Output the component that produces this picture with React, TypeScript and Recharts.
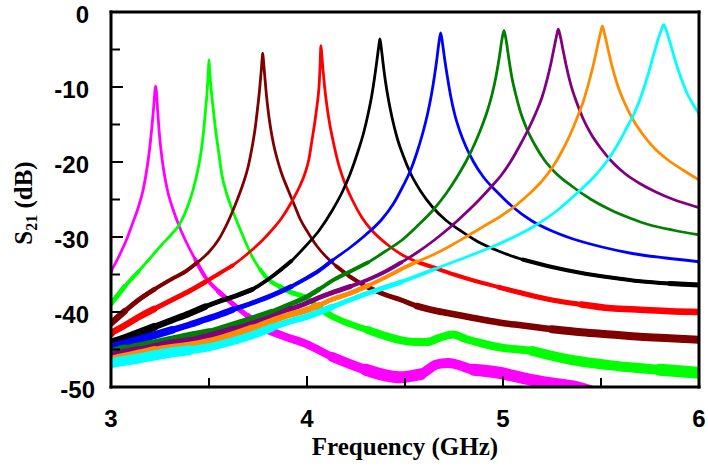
import { LineChart, Line, XAxis, YAxis } from "recharts";

// resonance traces, [frequency GHz, S21 dB]
const magenta: [number, number][] = [
  [3.0, -34.6], [3.04, -32.6], [3.08, -30.3], [3.11, -28.2], [3.14, -26.0], [3.165, -23.6], [3.185, -20.6],
  [3.2, -17.6], [3.21, -15.0], [3.218, -12.6], [3.224, -10.6], [3.228, -9.9], [3.232, -10.7], [3.238, -13.2],
  [3.246, -16.0], [3.256, -18.6], [3.27, -21.3], [3.29, -24.0], [3.315, -26.2], [3.35, -28.7], [3.39, -31.0],
  [3.43, -33.0], [3.48, -35.3], [3.55, -37.3], [3.62, -38.9], [3.7, -40.6], [3.79, -42.3], [3.9, -43.4],
  [3.99, -44.2], [4.13, -46.0], [4.3, -47.7], [4.47, -48.7], [4.58, -48.3], [4.66, -47.0], [4.72, -46.8],
  [4.85, -47.7], [4.98, -48.1], [5.1, -48.8], [5.24, -49.5], [5.35, -49.9], [5.45, -50.6],
];
const green: [number, number][] = [
  [3.0, -38.9], [3.07, -36.6], [3.14, -34.6], [3.2, -32.8], [3.26, -31.0], [3.31, -29.6], [3.35, -28.3],
  [3.39, -26.0], [3.42, -23.6], [3.445, -20.8], [3.46, -18.6], [3.472, -16.0], [3.482, -13.2], [3.49, -10.8],
  [3.496, -8.2], [3.5, -6.4], [3.504, -8.0], [3.512, -10.6], [3.522, -13.0], [3.535, -16.0], [3.55, -18.8],
  [3.565, -21.6], [3.59, -24.2], [3.622, -26.6], [3.65, -28.4], [3.685, -30.6], [3.72, -32.6], [3.76, -34.3],
  [3.8, -35.6], [3.86, -36.6], [3.92, -37.4], [3.99, -38.0], [4.06, -39.4], [4.13, -40.6], [4.22, -41.6],
  [4.31, -42.4], [4.4, -43.2], [4.47, -43.7], [4.55, -44.0], [4.61, -44.0], [4.68, -43.4], [4.745, -43.0],
  [4.81, -43.6], [4.88, -44.1], [4.98, -44.7], [5.15, -45.2], [5.33, -46.3], [5.58, -47.2], [5.8, -47.7],
  [6.0, -48.1],
];
const maroon: [number, number][] = [
  [3.0, -41.5], [3.07, -39.9], [3.14, -38.4], [3.22, -37.0], [3.31, -35.6], [3.38, -34.6], [3.44, -33.4],
  [3.5, -32.0], [3.55, -30.3], [3.6, -27.8], [3.64, -25.3], [3.67, -23.2], [3.7, -20.6], [3.72, -18.0],
  [3.735, -15.6], [3.748, -12.8], [3.758, -10.4], [3.766, -8.0], [3.771, -6.3], [3.774, -5.5], [3.778, -6.5],
  [3.784, -8.4], [3.792, -10.8], [3.802, -13.2], [3.815, -15.6], [3.83, -17.7], [3.85, -19.8], [3.87, -21.5],
  [3.9, -23.5], [3.935, -25.7], [3.965, -27.6], [4.0, -29.2], [4.05, -31.2], [4.1, -32.7], [4.15, -33.9],
  [4.22, -35.3], [4.31, -36.7], [4.4, -37.7], [4.48, -38.4], [4.56, -39.2], [4.65, -39.8], [4.75, -40.3],
  [4.85, -40.8], [4.98, -41.4], [5.1, -41.8], [5.25, -42.3], [5.4, -42.7], [5.55, -43.0], [5.7, -43.3],
  [5.85, -43.5], [6.0, -43.7],
];
const red: [number, number][] = [
  [3.0, -42.8], [3.07, -41.8], [3.14, -40.7], [3.22, -39.6], [3.31, -38.4], [3.4, -37.2], [3.48, -36.0],
  [3.55, -34.9], [3.62, -33.8], [3.68, -32.6], [3.72, -31.7], [3.77, -30.5], [3.82, -29.1], [3.87, -27.5],
  [3.92, -25.4], [3.96, -23.4], [3.99, -21.5], [4.01, -19.6], [4.026, -17.0], [4.041, -14.5], [4.05, -12.7],
  [4.056, -11.5], [4.063, -9.3], [4.067, -7.0], [4.071, -4.5], [4.076, -5.9], [4.082, -7.8], [4.09, -10.0],
  [4.1, -12.2], [4.115, -14.8], [4.13, -16.8], [4.16, -20.2], [4.19, -22.6], [4.23, -25.0], [4.28, -27.4],
  [4.33, -29.1], [4.4, -30.8], [4.48, -32.3], [4.56, -33.3], [4.65, -34.1], [4.75, -35.0], [4.85, -35.8],
  [4.98, -36.7], [5.1, -37.5], [5.25, -38.4], [5.4, -39.0], [5.55, -39.5], [5.7, -39.7], [5.85, -39.9],
  [6.0, -40.0],
];
const black: [number, number][] = [
  [3.0, -44.1], [3.07, -43.5], [3.14, -42.8], [3.22, -42.0], [3.31, -41.1], [3.4, -40.2], [3.48, -39.3],
  [3.55, -38.6], [3.62, -38.0], [3.72, -37.0], [3.82, -35.3], [3.92, -33.2], [3.99, -31.3], [4.06, -29.2],
  [4.13, -26.4], [4.18, -24.0], [4.22, -21.6], [4.26, -18.6], [4.29, -16.0], [4.31, -13.8], [4.33, -11.2],
  [4.345, -8.7], [4.357, -6.4], [4.366, -4.6], [4.372, -3.6], [4.379, -4.8], [4.388, -6.8], [4.4, -9.2],
  [4.415, -11.6], [4.435, -14.2], [4.46, -16.8], [4.49, -19.1], [4.53, -21.6], [4.58, -23.9], [4.64, -26.0],
  [4.71, -27.8], [4.78, -29.1], [4.87, -30.6], [4.98, -31.9], [5.1, -33.0], [5.25, -34.0], [5.4, -34.8],
  [5.55, -35.4], [5.7, -35.9], [5.85, -36.2], [6.0, -36.4],
];
const blue: [number, number][] = [
  [3.0, -44.7], [3.07, -44.2], [3.14, -43.7], [3.22, -43.1], [3.31, -42.4], [3.4, -41.7], [3.48, -41.0],
  [3.55, -40.4], [3.62, -39.7], [3.72, -38.8], [3.82, -37.8], [3.92, -36.6], [3.99, -35.6], [4.06, -34.5],
  [4.13, -33.1], [4.22, -31.4], [4.3, -29.7], [4.38, -27.7], [4.44, -25.6], [4.49, -23.2], [4.53, -21.0],
  [4.56, -18.8], [4.59, -16.2], [4.615, -13.6], [4.635, -11.0], [4.65, -8.6], [4.662, -6.4], [4.672, -4.3],
  [4.682, -2.8], [4.692, -4.3], [4.703, -6.4], [4.716, -8.6], [4.733, -11.2], [4.755, -13.8], [4.78, -15.9],
  [4.81, -17.9], [4.85, -20.0], [4.9, -22.0], [4.97, -24.0], [5.05, -26.0], [5.15, -27.9], [5.25, -29.2],
  [5.35, -30.2], [5.5, -31.3], [5.66, -32.2], [5.83, -32.8], [6.0, -33.3],
];
const darkGreen: [number, number][] = [
  [3.0, -45.5], [3.07, -45.0], [3.14, -44.6], [3.22, -44.2], [3.31, -43.7], [3.4, -43.2], [3.5, -42.7],
  [3.62, -41.7], [3.72, -40.9], [3.82, -40.0], [3.92, -38.9], [3.99, -38.1], [4.06, -37.0], [4.13, -35.8],
  [4.22, -34.6], [4.31, -33.4], [4.4, -31.9], [4.48, -30.5], [4.56, -28.6], [4.64, -26.5], [4.71, -24.2],
  [4.77, -21.8], [4.82, -19.5], [4.86, -17.3], [4.89, -15.4], [4.92, -13.2], [4.945, -10.9], [4.965, -8.5],
  [4.982, -5.9], [4.995, -3.6], [5.005, -2.5], [5.015, -3.6], [5.028, -5.9], [5.045, -8.7], [5.065, -11.0],
  [5.09, -13.4], [5.12, -15.5], [5.16, -17.6], [5.21, -19.7], [5.27, -21.5], [5.35, -23.2], [5.45, -25.0],
  [5.55, -26.4], [5.65, -27.5], [5.75, -28.4], [5.87, -29.1], [6.0, -29.7],
];
const purple: [number, number][] = [
  [3.0, -46.0], [3.07, -45.6], [3.14, -45.2], [3.22, -44.7], [3.31, -44.2], [3.4, -43.9], [3.5, -43.3],
  [3.62, -42.4], [3.72, -41.6], [3.82, -40.7], [3.92, -39.6], [3.99, -38.9], [4.06, -38.1], [4.13, -37.4],
  [4.22, -36.6], [4.31, -35.7], [4.4, -34.6], [4.48, -33.4], [4.56, -32.1], [4.65, -30.4], [4.73, -28.7],
  [4.81, -26.8], [4.88, -25.0], [4.94, -23.3], [4.99, -21.8], [5.04, -19.9], [5.09, -17.6], [5.13, -15.6],
  [5.17, -13.3], [5.2, -11.3], [5.225, -9.0], [5.245, -6.8], [5.262, -4.6], [5.274, -3.1], [5.282, -2.3],
  [5.292, -3.2], [5.305, -4.9], [5.322, -7.1], [5.345, -9.6], [5.375, -12.0], [5.41, -14.3], [5.45, -16.3],
  [5.5, -18.2], [5.55, -19.8], [5.62, -21.5], [5.7, -22.9], [5.78, -24.0], [5.87, -25.0], [5.94, -25.6],
  [6.0, -26.1],
];
const orange: [number, number][] = [
  [3.0, -46.5], [3.07, -46.1], [3.14, -45.7], [3.22, -45.2], [3.31, -44.8], [3.4, -44.5], [3.5, -44.0],
  [3.62, -43.1], [3.72, -42.2], [3.82, -41.2], [3.92, -40.3], [3.99, -39.8], [4.06, -39.1], [4.13, -38.3],
  [4.22, -37.5], [4.31, -36.5], [4.4, -35.4], [4.48, -34.3], [4.56, -33.3], [4.65, -32.3], [4.73, -31.2],
  [4.81, -30.0], [4.9, -28.6], [4.99, -27.2], [5.07, -25.7], [5.14, -24.1], [5.2, -22.5], [5.25, -20.8],
  [5.3, -18.6], [5.34, -16.5], [5.38, -14.0], [5.41, -11.9], [5.44, -9.2], [5.465, -6.6], [5.485, -4.2],
  [5.498, -2.7], [5.507, -1.9], [5.518, -2.9], [5.533, -4.6], [5.555, -7.1], [5.585, -9.8], [5.62, -12.1],
  [5.66, -14.2], [5.71, -16.2], [5.77, -18.1], [5.84, -19.7], [5.92, -21.1], [6.0, -22.4],
];
const cyan: [number, number][] = [
  [3.0, -46.8], [3.07, -46.5], [3.14, -46.2], [3.22, -45.8], [3.31, -45.4], [3.4, -45.1], [3.5, -44.7],
  [3.62, -43.9], [3.72, -43.1], [3.82, -42.1], [3.92, -41.2], [3.99, -40.7], [4.13, -39.3], [4.31, -37.5],
  [4.48, -36.0], [4.65, -34.3], [4.82, -32.6], [4.99, -30.8], [5.15, -28.7], [5.27, -26.6], [5.38, -24.1],
  [5.46, -22.1], [5.53, -19.9], [5.58, -17.9], [5.63, -15.5], [5.67, -13.5], [5.705, -11.2], [5.735, -8.8],
  [5.76, -6.5], [5.785, -4.2], [5.805, -2.6], [5.82, -1.7], [5.835, -2.6], [5.855, -4.3], [5.88, -6.6],
  [5.91, -8.9], [5.94, -10.9], [5.97, -12.3], [6.0, -13.6],
];

const curves = [magenta, green, maroon, red, black, blue, darkGreen, purple, orange, cyan];
const colors = ["#ff00ff", "#00ff00", "#7f0000", "#ff0000", "#000000", "#0000ff", "#008000", "#800080", "#ff8c00", "#00ffff"];

const xTicks = [3, 3.5, 4, 4.5, 5, 5.5, 6];
const yTicks = [-50, -45, -40, -35, -30, -25, -20, -15, -10, -5, 0];

// noisy floor: the lower the level, the wider the scatter band
const bands = [
  { key: "a", below: -33, width: 4 },
  { key: "b", below: -36, width: 5 },
  { key: "c", below: -39, width: 6.5 },
  { key: "d", below: -42, width: 8 },
  { key: "e", below: -45, width: 10 },
  { key: "g", below: -47.5, width: 12 },
];

const rows = curves.map((pts) =>
  pts.map(([f, v]) => {
    const r: Record<string, number | null> = { f, v };
    bands.forEach((b) => {
      r[b.key] = v <= b.below ? v : null;
    });
    return r;
  })
);

const W = 708;
const H = 466;
const M = { top: 12, right: 9, bottom: 0, left: 0 };
const X_AXIS_H = 79;
const Y_AXIS_W = 111;
const plotW = W - M.left - M.right - Y_AXIS_W;
const plotH = H - M.top - M.bottom - X_AXIS_H;

const sans = "'Liberation Sans', Arial, sans-serif";
const serif = "'Liberation Serif', 'Times New Roman', serif";

// ticks point inward; the box is drawn by the end ticks
const XTick = (props: any) => {
  const { x, y, payload } = props;
  const v = payload.value;
  const major = Number.isInteger(v);
  const edge = v === 3 || v === 6;
  return (
    <g>
      {edge ? (
        <path d={`M${x},${y + 1.5}V${y - plotH - 1.5}`} stroke="#000" strokeWidth={3} fill="none" />
      ) : (
        <path d={`M${x},${y}V${y - (major ? 11 : 9)}`} stroke="#000" strokeWidth={2} fill="none" />
      )}
      {major && (
        <text x={x} y={y + 40} textAnchor="middle" fontFamily={sans} fontWeight="bold" fontSize={24} fill="#000">
          {v}
        </text>
      )}
    </g>
  );
};

const YTick = (props: any) => {
  const { x, y, payload } = props;
  const v = payload.value;
  const major = v % 10 === 0;
  const edge = v === 0 || v === -50;
  return (
    <g>
      {edge ? (
        <path d={`M${x - 1.5},${y}H${x + plotW + 1.5}`} stroke="#000" strokeWidth={3} fill="none" />
      ) : (
        <path d={`M${x},${y}H${x + (major ? 12 : 9)}`} stroke="#000" strokeWidth={2} fill="none" />
      )}
      {major && (
        <text x={v === -50 ? x - 16 : x - 22} y={y + 10.5} textAnchor="end" fontFamily={sans} fontWeight="bold" fontSize={24} fill="#000">
          {v}
        </text>
      )}
    </g>
  );
};

const XTitle = () => (
  <text x={405} y={455} textAnchor="middle" fontFamily={serif} fontWeight="bold" fontSize={25} fill="#000">
    Frequency (GHz)
  </text>
);

const YTitle = () => (
  <text x={32} y={203} transform="rotate(-90 32 203)" textAnchor="middle" fontFamily={serif} fontWeight="bold" fontSize={25} fill="#000">
    S<tspan fontSize={16} dy={5}>21</tspan>
    <tspan dy={-5}> (dB)</tspan>
  </text>
);

export default function App() {
  return (
    <div style={{ position: "absolute", left: 0, top: 0, width: W, height: H, background: "#fff" }}>
      <LineChart width={W} height={H} margin={M}>
        <XAxis
          type="number"
          dataKey="f"
          domain={[3, 6]}
          ticks={xTicks}
          interval={0}
          allowDataOverflow
          tickSize={0}
          tickMargin={0}
          axisLine={false}
          tick={<XTick />}
          height={X_AXIS_H}
          label={<XTitle />}
        />
        <YAxis
          type="number"
          domain={[-50, 0]}
          ticks={yTicks}
          interval={0}
          allowDataOverflow
          tickSize={0}
          tickMargin={0}
          axisLine={false}
          tick={<YTick />}
          width={Y_AXIS_W}
          label={<YTitle />}
        />
        {rows.map((data, i) => [
          ...bands.map((b) => (
            <Line
              key={`${i}-${b.key}`}
              data={data}
              dataKey={b.key}
              type="monotone"
              stroke={colors[i]}
              strokeWidth={b.width}
              strokeLinejoin="round"
              strokeLinecap="round"
              dot={false}
              activeDot={false}
              isAnimationActive={false}
              connectNulls={false}
            />
          )),
          <Line
            key={`${i}-v`}
            data={data}
            dataKey="v"
            type="monotone"
            stroke={colors[i]}
            strokeWidth={2.8}
            strokeLinejoin="round"
            dot={false}
            activeDot={false}
            isAnimationActive={false}
          />,
        ])}
      </LineChart>
    </div>
  );
}
